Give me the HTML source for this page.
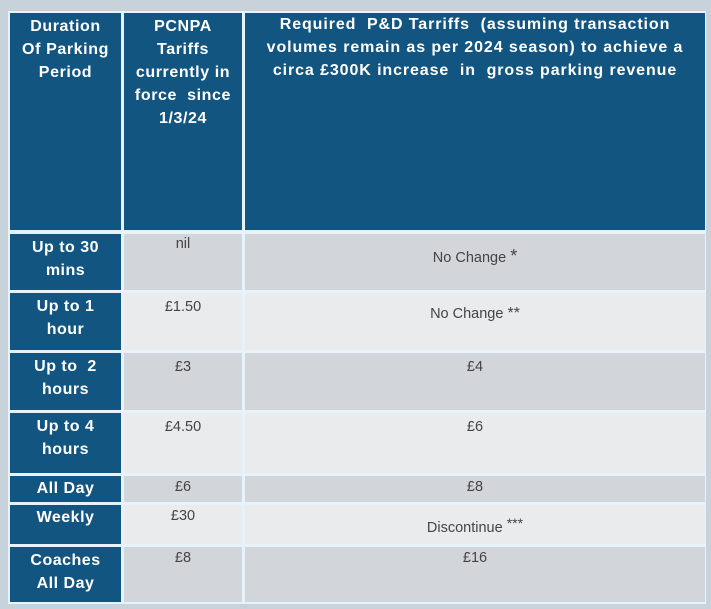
<!DOCTYPE html>
<html><head><meta charset="utf-8"><style>
body{margin:0;width:711px;height:609px;background:#c8d2db;font-family:"Liberation Sans",sans-serif;position:relative;overflow:hidden}
.c{position:absolute;box-sizing:border-box;text-align:center;white-space:nowrap}
.h{background:#135581;color:#fff;font-weight:bold;font-size:16px;line-height:23px;padding-top:2px;letter-spacing:0.6px}
.g{background:#d2d5da;color:#444;font-size:14.5px;padding-top:6px}
.l{background:#eaebed;color:#444;font-size:14.5px;padding-top:6px}
.r{background:#135581;color:#fff;font-weight:bold;font-size:16px;line-height:23px;padding-top:2px;letter-spacing:0.5px}
</style></head><body>
<div style="position:absolute;left:8px;top:11px;width:698px;height:593px;background:#e8f2fa"></div>
<div class="c h" style="left:10px;top:13px;width:111px;height:217px">Duration<br>Of Parking<br>Period</div>
<div class="c h" style="left:124px;top:13px;width:118px;height:217px">PCNPA<br>Tariffs<br>currently in<br>force&nbsp; since<br>1/3/24</div>
<div class="c h" style="left:245px;top:13px;width:460px;height:217px;padding-top:0;font-size:16px;letter-spacing:0.9px">Required&nbsp; P&amp;D Tarriffs&nbsp; (assuming transaction<br>volumes remain as per 2024 season) to achieve a<br>circa £300K increase&nbsp; in&nbsp; gross parking revenue</div>

<div class="c r" style="left:10px;top:234px;width:111px;height:56px">Up to 30<br>mins</div>
<div class="c g" style="left:124px;top:234px;width:118px;height:56px;padding-top:2px">nil</div>
<div class="c g" style="left:245px;top:234px;width:460px;height:56px;padding-top:12px">No Change <span style="font-size:18px">*</span></div>

<div class="c r" style="left:10px;top:293px;width:111px;height:57px">Up to 1<br>hour</div>
<div class="c l" style="left:124px;top:293px;width:118px;height:57px">£1.50</div>
<div class="c l" style="left:245px;top:293px;width:460px;height:57px;padding-top:12px">No Change <span style="font-size:16px">**</span></div>

<div class="c r" style="left:10px;top:353px;width:111px;height:57px">Up to&nbsp; 2<br>hours</div>
<div class="c g" style="left:124px;top:353px;width:118px;height:57px">£3</div>
<div class="c g" style="left:245px;top:353px;width:460px;height:57px">£4</div>

<div class="c r" style="left:10px;top:413px;width:111px;height:60px">Up to 4<br>hours</div>
<div class="c l" style="left:124px;top:413px;width:118px;height:60px">£4.50</div>
<div class="c l" style="left:245px;top:413px;width:460px;height:60px">£6</div>

<div class="c r" style="left:10px;top:476px;width:111px;height:26px;padding-top:1px">All Day</div>
<div class="c g" style="left:124px;top:476px;width:118px;height:26px;padding-top:3px">£6</div>
<div class="c g" style="left:245px;top:476px;width:460px;height:26px;padding-top:3px">£8</div>

<div class="c r" style="left:10px;top:505px;width:111px;height:39px;padding-top:1px">Weekly</div>
<div class="c l" style="left:124px;top:505px;width:118px;height:39px;padding-top:3px">£30</div>
<div class="c l" style="left:245px;top:505px;width:460px;height:39px;padding-top:10px">Discontinue <span style="font-size:14px;vertical-align:4px">***</span></div>

<div class="c r" style="left:10px;top:547px;width:111px;height:55px">Coaches<br>All Day</div>
<div class="c g" style="left:124px;top:547px;width:118px;height:55px;padding-top:3px">£8</div>
<div class="c g" style="left:245px;top:547px;width:460px;height:55px;padding-top:3px">£16</div>
</body></html>
